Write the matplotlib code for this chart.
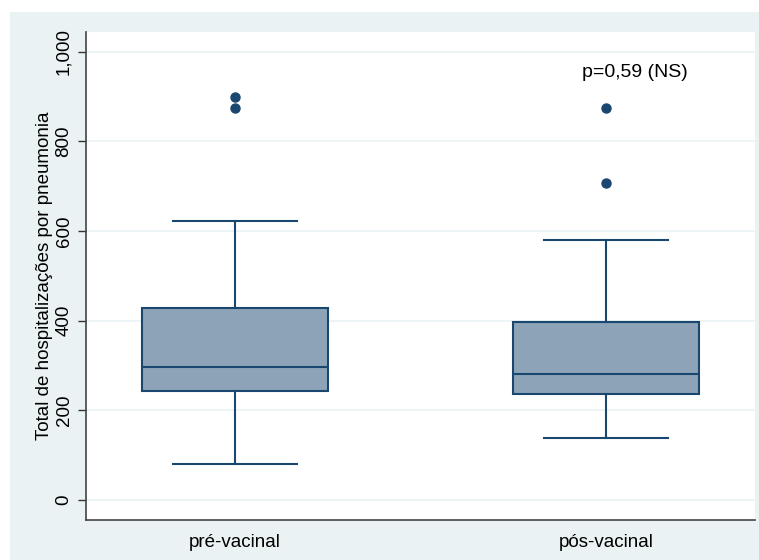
import matplotlib.pyplot as plt
from matplotlib.patches import Rectangle

plt.rcParams['font.family'] = ['Liberation Sans', 'DejaVu Sans']

# values
groups = ['pré-vacinal', 'pós-vacinal']
whisker_low = [81, 138]
q1 = [243, 236]
median = [296, 281]
q3 = [429, 397]
whisker_high = [621, 579]
outliers = [[898, 874], [873, 707]]
p_text = 'p=0,59 (NS)'

bg = '#eaf2f3'
box_fill = '#8da3b8'
navy = '#1a476f'

stats = []
for i, g in enumerate(groups):
    stats.append({'label': g, 'whislo': whisker_low[i], 'q1': q1[i], 'med': median[i],
                  'q3': q3[i], 'whishi': whisker_high[i], 'fliers': outliers[i]})

fig = plt.figure(figsize=(7.59, 5.6), dpi=100)
fig.patches.append(Rectangle((10 / 759, 0), 1, 1 - 12 / 560, transform=fig.transFigure,
                             facecolor=bg, edgecolor='none', zorder=-10))
ax = fig.add_axes([85.7 / 759, 40 / 560, 669.3 / 759, 488 / 560])
ax.set_facecolor('white')

ax.bxp(stats, positions=[1, 2], widths=0.5, capwidths=0.333, patch_artist=True,
       boxprops=dict(facecolor=box_fill, edgecolor=navy, linewidth=1.5),
       medianprops=dict(color=navy, linewidth=1.5),
       whiskerprops=dict(color=navy, linewidth=1.5),
       capprops=dict(color=navy, linewidth=1.5),
       flierprops=dict(marker='o', markerfacecolor=navy, markeredgecolor=navy, markersize=6.5))

ax.set_xlim(0.598, 2.402)
ax.set_ylim(-44.6, 1043.5)
ax.set_yticks([0, 200, 400, 600, 800, 1000])
ax.set_yticklabels(['0', '200', '400', '600', '800', '1,000'], rotation=90, va='center')
ax.yaxis.grid(True, color=bg, linewidth=1.2)
ax.set_axisbelow(True)
ax.tick_params(axis='y', length=5.5, width=1, color='#333333', labelsize=13.5, pad=4)
ax.tick_params(axis='x', length=0, labelsize=13.5, pad=10)

for s in ['top', 'right']:
    ax.spines[s].set_visible(False)
for s in ['left', 'bottom']:
    ax.spines[s].set_color('#444444')
    ax.spines[s].set_linewidth(1.2)

ax.set_ylabel('Total de hospitalizações por pneumonia', fontsize=13.5, labelpad=2)
ax.text(2.078, 953, p_text, ha='center', va='center', fontsize=14)

fig.savefig('out.png', dpi=100)
